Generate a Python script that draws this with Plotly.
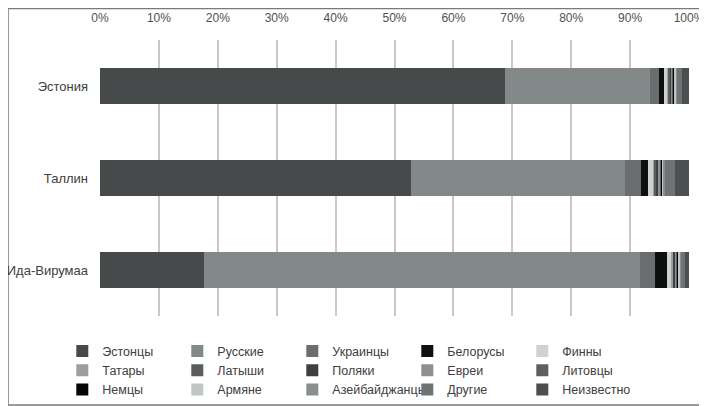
import plotly.graph_objects as go

regions = ["Эстония", "Таллин", "Ида-Вирумаа"]

groups = ["Эстонцы", "Русские", "Украинцы", "Белорусы", "Финны",
          "Татары", "Латыши", "Поляки", "Евреи", "Литовцы",
          "Немцы", "Армяне", "Азейбайджанцы", "Другие", "Неизвестно"]

# shares (%) for Эстония, Таллин, Ида-Вирумаа
estontsy = [68.7, 52.8, 17.6]
russkie = [24.7, 36.3, 74.1]
ukraintsy = [1.5, 2.8, 2.5]
belorusy = [0.9, 1.1, 2.0]
finny = [0.6, 0.9, 0.8]
tatary = [0.2, 0.3, 0.3]
latyshi = [0.2, 0.3, 0.1]
polyaki = [0.2, 0.3, 0.3]
evrei = [0.2, 0.3, 0.1]
litovtsy = [0.2, 0.2, 0.3]
nemtsy = [0.2, 0.2, 0.2]
armyane = [0.2, 0.2, 0.2]
azerbaidzhantsy = [0.1, 0.2, 0.2]
drugie = [0.9, 1.8, 0.6]
neizvestno = [1.2, 2.3, 0.7]

series = [estontsy, russkie, ukraintsy, belorusy, finny,
          tatary, latyshi, polyaki, evrei, litovtsy,
          nemtsy, armyane, azerbaidzhantsy, drugie, neizvestno]

colors = ["#474a4a", "#838989", "#696d6d", "#0e0f0f", "#cfd2d2",
          "#9b9f9f", "#5a5e5e", "#3d4040", "#8c9090", "#5c6060",
          "#050505", "#c2c5c5", "#8a8e8e", "#6f7373", "#4b4f4f"]

fig = go.Figure()
for name, vals, col in zip(groups, series, colors):
    fig.add_trace(go.Bar(
        y=regions, x=[v / 100 for v in vals], name=name, orientation="h",
        marker=dict(color=col, line=dict(width=0)),
    ))

W, H = 699, 398
L, R, T, B = 92, 18, 32, 90
PW, PH = W - L - R, H - T - B

fig.update_layout(
    width=W, height=H,
    barmode="stack", bargap=0.6,
    paper_bgcolor="white", plot_bgcolor="white",
    margin=dict(l=L, r=R, t=T, b=B, autoexpand=False),
    font=dict(family="Liberation Sans", size=12, color="#404040"),
    xaxis=dict(side="top", range=[0, 1], dtick=0.1, tickformat=".0%",
               showgrid=True, gridcolor="#c8c8c8", gridwidth=1.5,
               zeroline=False, showline=False, ticks="", automargin=False,
               ticklabelstandoff=15,
               tickfont=dict(size=12, color="#505050")),
    yaxis=dict(autorange="reversed", showgrid=False, showline=False,
               ticks="", ticklabelstandoff=11, automargin=False,
               tickfont=dict(size=13, color="#404040")),
    legend=dict(orientation="h", x=-0.064, xanchor="left", y=-0.074, yanchor="top",
                entrywidth=70, entrywidthmode="pixels",
                font=dict(size=12.5, color="#404040"), traceorder="normal",
                itemwidth=30),
    shapes=[dict(type="rect", xref="paper", yref="paper",
                 x0=(0 - L) / PW, x1=(698 - L) / PW,
                 y0=(PH + T - 397) / PH, y1=(PH + T - 0.5) / PH,
                 line=dict(color="#7a7a7a", width=1.5), fillcolor="rgba(0,0,0,0)",
                 layer="below")],
)

fig.write_html("out.html")
